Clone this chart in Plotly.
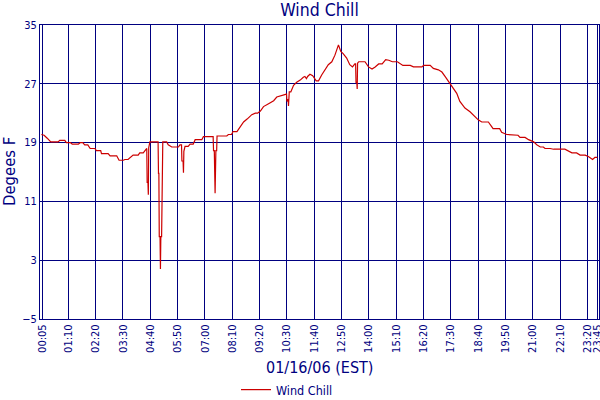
import plotly.graph_objects as go

# ---- data (time of day, wind chill in deg F) ----
times = [
    "00:01", "00:08", "00:16", "00:25", "00:44", "00:48", "01:01", "01:05", "01:15", "01:20",
    "01:36", "01:41", "01:47", "01:52", "02:00", "02:06", "02:18", "02:22", "02:33", "02:35",
    "02:52", "02:57", "03:14", "03:20", "03:31", "03:35", "03:43", "03:50", "03:56", "04:09",
    "04:13", "04:22", "04:30", "04:31", "04:32", "04:34", "04:35", "04:36", "04:39", "04:58",
    "05:00", "05:01", "05:02", "05:03", "05:05", "05:06", "05:07", "05:09", "05:10", "05:11",
    "05:12", "05:22", "05:26", "05:35", "05:52", "05:56", "06:00", "06:01", "06:04", "06:05",
    "06:06", "06:09", "06:17", "06:22", "06:30", "06:35", "06:52", "06:56", "07:21", "07:22",
    "07:24", "07:26", "07:28", "07:30", "07:31", "07:56", "08:00", "08:08", "08:12", "08:22",
    "08:30", "08:39", "08:48", "09:00", "09:09", "09:15", "09:22", "09:30", "09:43", "09:56",
    "10:04", "10:17", "10:28", "10:29", "10:30", "10:33", "10:34", "10:36", "10:40", "10:47",
    "10:55", "11:04", "11:12", "11:16", "11:20", "11:23", "11:29", "11:36", "11:45", "11:51",
    "11:59", "12:08", "12:16", "12:25", "12:33", "12:42", "12:48", "12:54", "13:03", "13:11",
    "13:18", "13:24", "13:26", "13:27", "13:29", "13:30", "13:31", "13:34", "13:50", "13:59",
    "14:08", "14:16", "14:25", "14:34", "14:43", "14:51", "15:00", "15:13", "15:20", "15:27",
    "15:46", "15:54", "16:16", "16:20", "16:37", "16:45", "16:58", "17:07", "17:15", "17:24",
    "17:32", "17:45", "17:53", "18:06", "18:19", "18:32", "18:40", "18:49", "19:06", "19:14",
    "19:18", "19:35", "19:40", "19:53", "20:05", "20:09", "20:22", "20:27", "20:40", "20:49",
    "21:02", "21:10", "21:19", "21:27", "21:31", "21:44", "21:53", "22:22", "22:31", "22:40",
    "22:52", "23:01", "23:14", "23:22", "23:33", "23:39", "23:45",
]
wind_chill = [
    20.1, 20.0, 19.6, 19.1, 19.1, 19.3, 19.3, 19.0, 19.0, 18.8,
    18.8, 19.0, 19.0, 18.7, 18.7, 18.2, 18.2, 17.9, 17.9, 17.5,
    17.5, 17.2, 17.2, 16.6, 16.6, 16.7, 16.7, 17.0, 17.3, 17.3,
    17.6, 17.6, 18.2, 18.2, 13.6, 13.6, 11.9, 18.3, 19.1, 19.1,
    19.1, 14.8, 14.8, 6.2, 6.2, 1.8, 6.2, 6.2, 14.8, 14.8,
    19.1, 19.1, 18.7, 18.4, 18.4, 18.7, 18.7, 16.5, 16.5, 14.9,
    17.8, 18.5, 18.5, 18.8, 18.8, 19.4, 19.4, 19.8, 19.8, 17.9,
    17.9, 12.1, 17.9, 17.9, 19.9, 19.9, 20.1, 20.1, 20.5, 20.5,
    21.1, 21.8, 22.2, 22.8, 23.0, 23.0, 23.3, 23.9, 24.3, 24.7,
    25.2, 25.4, 25.6, 25.6, 24.6, 24.9, 24.0, 25.9, 25.9, 26.8,
    27.2, 27.5, 27.9, 28.0, 27.7, 28.0, 28.3, 28.1, 27.4, 27.4,
    28.2, 28.9, 29.6, 30.0, 30.9, 32.3, 31.4, 31.1, 30.5, 29.6,
    29.3, 29.7, 29.7, 27.2, 27.2, 26.3, 29.8, 30.0, 30.0, 29.3,
    29.0, 29.3, 29.7, 29.7, 30.3, 30.2, 30.0, 30.0, 29.7, 29.5,
    29.5, 29.3, 29.3, 29.5, 29.5, 29.1, 28.9, 28.6, 28.0, 27.3,
    26.6, 25.7, 24.6, 23.7, 23.2, 22.5, 22.1, 21.8, 21.8, 21.2,
    20.9, 20.9, 20.4, 20.1, 20.1, 20.0, 20.0, 19.7, 19.7, 19.4,
    19.1, 18.7, 18.4, 18.4, 18.2, 18.2, 18.1, 18.1, 17.8, 17.6,
    17.6, 17.3, 17.3, 17.1, 16.7, 17.0, 17.0,
]
tick_labels = ["00:05", "01:10", "02:20", "03:30", "04:40", "05:50", "07:00", "08:10",
               "09:20", "10:30", "11:40", "12:50", "14:00", "15:10", "16:20", "17:30",
               "18:40", "19:50", "21:00", "22:10", "23:20", "23:45"]
y_ticks = [35, 27, 19, 11, 3, -5]

DAY = "2006-01-16 "
x_vals = [DAY + t for t in times]
x_ticks = [DAY + t for t in tick_labels]

NAVY = "#000080"
RED = "#CC0000"
FONT = "DejaVu Sans Condensed, DejaVu Sans, sans-serif"

fig = go.Figure()
fig.add_trace(go.Scatter(
    x=x_vals, y=wind_chill, mode="lines", name="Wind Chill",
    line=dict(color=RED, width=1.2),
))

fig.update_layout(
    width=600, height=400,
    margin=dict(l=40, r=1, t=25, b=81, autoexpand=False),
    paper_bgcolor="white", plot_bgcolor="white",
    font=dict(family=FONT, color=NAVY, size=11),
    title=dict(text="Wind Chill", x=0.5, xref="paper", xanchor="center",
               y=1 - 10 / 400, yref="container", yanchor="middle",
               font=dict(size=17.5, color=NAVY, family=FONT)),
    showlegend=True,
    legend=dict(orientation="h", x=(236 - 40) / 559, xanchor="left",
                y=(319 - 390) / 294, yanchor="middle",
                font=dict(size=12.5, color=NAVY, family=FONT),
                bgcolor="rgba(0,0,0,0)"),
    xaxis=dict(
        type="date", automargin=False,
        range=["2006-01-15 23:57:30", "2006-01-16 23:49:24"],
        tickvals=x_ticks, ticktext=tick_labels, tickangle=-90,
        ticklabeloverflow="allow",
        tickfont=dict(size=11, color=NAVY, family=FONT),
        showgrid=True, gridcolor=NAVY, gridwidth=1,
        showline=True, linecolor=NAVY, linewidth=1, mirror=True,
        ticks="", zeroline=False,
    ),
    yaxis=dict(
        range=[-5, 35], tickvals=y_ticks, automargin=False,
        tickfont=dict(size=11, color=NAVY, family=FONT),
        showgrid=True, gridcolor=NAVY, gridwidth=1,
        showline=True, linecolor=NAVY, linewidth=1, mirror=True,
        ticks="", zeroline=False,
    ),
    annotations=[
        dict(text="Degees F", xref="paper", yref="paper", x=(9 - 40) / 559, y=0.5,
             textangle=-90, showarrow=False, xanchor="center", yanchor="middle",
             font=dict(size=16.5, color=NAVY, family=FONT)),
        dict(text="01/16/06 (EST)", xref="paper", yref="paper", x=0.5, y=(319 - 367) / 294,
             showarrow=False, xanchor="center", yanchor="middle",
             font=dict(size=16, color=NAVY, family=FONT)),
    ],
)

fig.write_html(
    "out.html",
    config={"displayModeBar": False},
    post_script="document.body.style.margin='0';document.body.style.padding='0';",
)
